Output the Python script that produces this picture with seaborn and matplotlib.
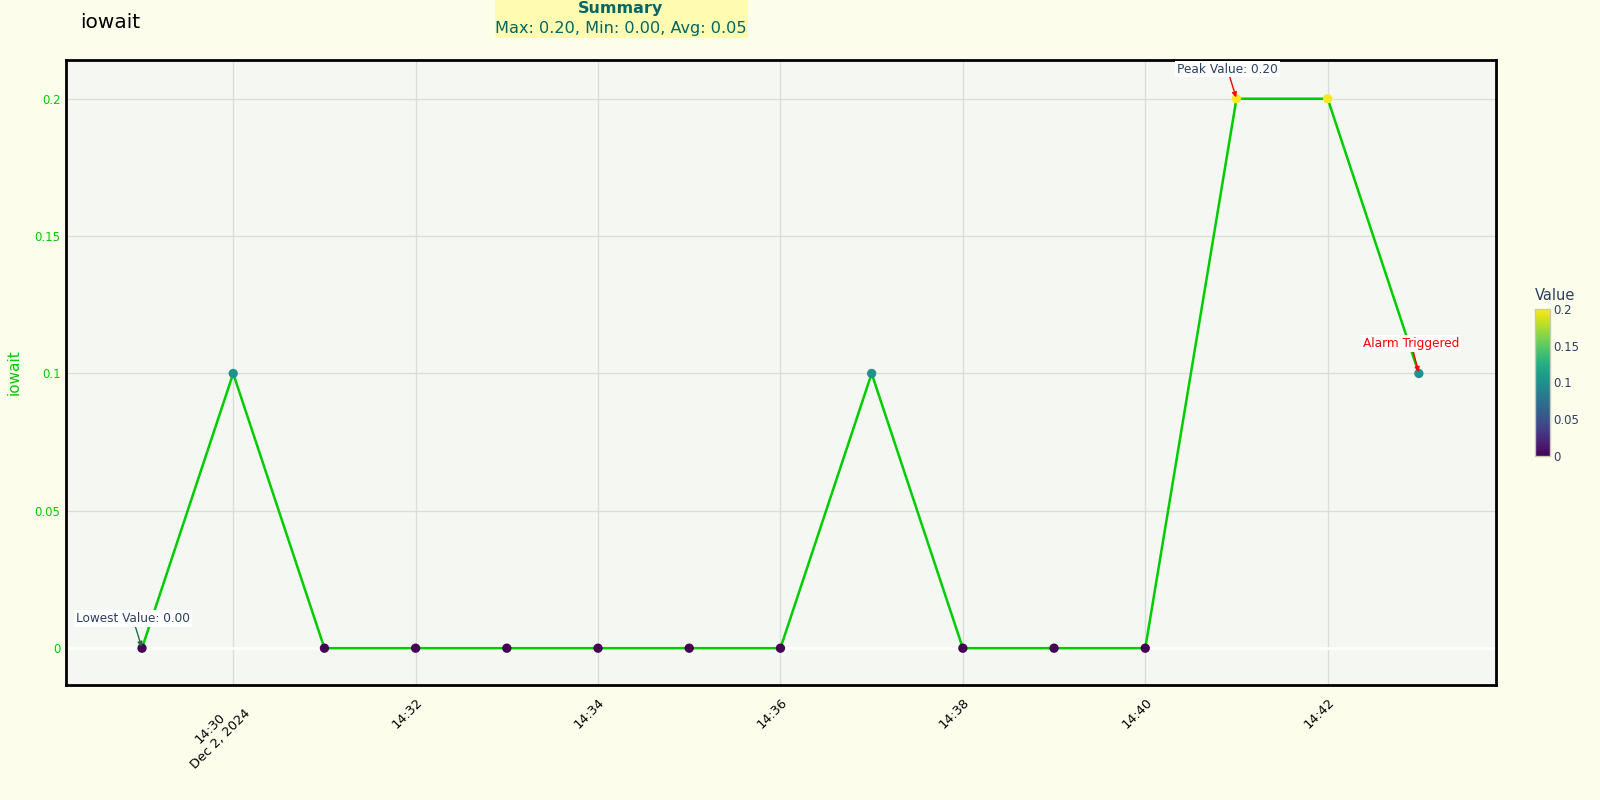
import pandas as pd
import matplotlib
matplotlib.use("Agg")
import matplotlib.pyplot as plt
import seaborn as sns

# Chart data
times = ["14:29", "14:30", "14:31", "14:32", "14:33", "14:34", "14:35", "14:36",
         "14:37", "14:38", "14:39", "14:40", "14:41", "14:42", "14:43"]
iowait = [0.0, 0.1, 0.0, 0.0, 0.0, 0.0, 0.0, 0.0,
          0.1, 0.0, 0.0, 0.0, 0.2, 0.2, 0.1]
tick_times = ["14:30", "14:32", "14:34", "14:36", "14:38", "14:40", "14:42"]
tick_labels = ["14:30\nDec 2, 2024", "14:32", "14:34", "14:36", "14:38", "14:40", "14:42"]
y_ticks = [0, 0.05, 0.1, 0.15, 0.2]
y_tick_labels = ["0", "0.05", "0.1", "0.15", "0.2"]
cbar_ticks = [0, 0.05, 0.1, 0.15, 0.2]
cbar_labels = ["0", "0.05", "0.1", "0.15", "0.2"]

day = "2024-12-02 "
df = pd.DataFrame({"time": pd.to_datetime([day + t for t in times]), "value": iowait})

sns.set_theme(style="white")
plt.rcParams["font.family"] = ["DejaVu Sans"]

paper = "#fdfdec"
plot_bg = "#f5f8f2"
line_green = "#00cc00"
slate = "#2a3f5f"

fig = plt.figure(figsize=(16, 8), dpi=100, facecolor=paper)
ax = fig.add_axes([0.04125, 0.14375, 0.894, 0.78125])
ax.set_facecolor(plot_bg)

ax.grid(True, color="#dcdcdc", linewidth=1)
ax.axhline(0, color="white", linewidth=2, zorder=1)

sns.lineplot(data=df, x="time", y="value", color=line_green, linewidth=1.8, ax=ax, zorder=2)
sns.scatterplot(data=df, x="time", y="value", hue="value", palette="viridis",
                hue_norm=(0, 0.2), s=45, edgecolor="none", legend=False, ax=ax, zorder=3)

ax.set_xlim(pd.Timestamp(day + "14:28:10"), pd.Timestamp(day + "14:43:51"))
ax.set_ylim(-0.0134, 0.2141)

ax.set_xticks(pd.to_datetime([day + t for t in tick_times]))
ax.set_xticklabels(tick_labels, rotation=45, ha="right", va="top",
                   rotation_mode="anchor", multialignment="center",
                   fontsize=9.3, color="black")
ax.set_yticks(y_ticks)
ax.set_yticklabels(y_tick_labels, fontsize=8.5, color=line_green)
ax.tick_params(axis="both", length=0, pad=4)
ax.tick_params(axis="x", pad=8)

ax.set_xlabel("")
ax.set_ylabel("iowait", color=line_green, fontsize=11)
ax.yaxis.set_label_coords(-0.031, 0.5)

for sp in ax.spines.values():
    sp.set_visible(True)
    sp.set_color("black")
    sp.set_linewidth(2)

# Annotations
t_peak = df["time"].iloc[12]
t_low = df["time"].iloc[0]
t_alarm = df["time"].iloc[14]
box = dict(boxstyle="square,pad=0.15", facecolor="white", edgecolor="none")

ax.annotate("Peak Value: 0.20", xy=(t_peak, 0.2),
            xytext=(pd.Timestamp(day + "14:40:54"), 0.2108),
            ha="center", va="center", fontsize=8.7, color=slate, bbox=box,
            arrowprops=dict(arrowstyle="-|>", color="red", lw=1, mutation_scale=7,
                            shrinkA=0, shrinkB=1))
ax.annotate("Lowest Value: 0.00", xy=(t_low, 0.0),
            xytext=(pd.Timestamp(day + "14:28:54"), 0.0108),
            ha="center", va="center", fontsize=8.7, color=slate, bbox=box,
            arrowprops=dict(arrowstyle="-|>", color="#1f6f3f", lw=1, mutation_scale=7,
                            shrinkA=0, shrinkB=1))
ax.annotate("Alarm Triggered", xy=(t_alarm, 0.1),
            xytext=(pd.Timestamp(day + "14:42:55"), 0.1108),
            ha="center", va="center", fontsize=8.7, color="red", bbox=box,
            arrowprops=dict(arrowstyle="-|>", color="red", lw=1, mutation_scale=7,
                            shrinkA=0, shrinkB=1))

# Title and summary
fig.text(0.05, 0.972, "iowait", fontsize=14.5, color="black", ha="left", va="center")
fig.patches.append(plt.Rectangle((0.3095, 0.952), 0.158, 0.048, transform=fig.transFigure,
                                 facecolor="#fffbb0", edgecolor="none", zorder=0))
fig.text(0.388, 0.99, "Summary", fontsize=11.5, fontweight="bold", color="#006666",
         ha="center", va="center")
fig.text(0.388, 0.965, "Max: 0.20, Min: 0.00, Avg: 0.05", fontsize=11.6, color="#006666",
         ha="center", va="center")

# Colorbar
cax = fig.add_axes([0.9595, 0.43, 0.0095, 0.184])
sm = plt.cm.ScalarMappable(cmap="viridis", norm=plt.Normalize(0, 0.2))
cb = fig.colorbar(sm, cax=cax)
cb.set_ticks(cbar_ticks)
cb.set_ticklabels(cbar_labels)
cb.ax.tick_params(length=0, labelsize=8.5, labelcolor=slate, pad=2)
cb.outline.set_edgecolor("#c8c8b8")
cb.outline.set_linewidth(1)
cax.set_title("Value", fontsize=10.5, color=slate, pad=6, loc="left")

fig.savefig("out.png", dpi=100, facecolor=paper)
